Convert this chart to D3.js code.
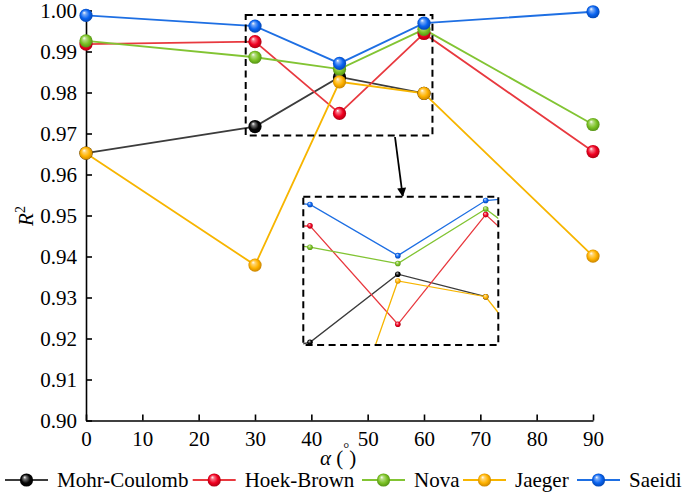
<!DOCTYPE html>
<html><head><meta charset="utf-8">
<script src="https://cdn.jsdelivr.net/npm/d3@7"></script>
<style>
body{margin:0;background:#fff}
</style>
</head><body>
<svg id="c" width="685" height="494"></svg>
<script>
// ---- data ----
const angles = [0, 30, 45, 60, 90];
const seriesNames = ["Mohr-Coulomb", "Hoek-Brown", "Nova", "Jaeger", "Saeidi"];
const mohrCoulomb = [0.9652, 0.9717, 0.9838, 0.9798, null];
const hoekBrown   = [0.9918, 0.9924, 0.9749, 0.9944, 0.9656];
const nova        = [0.9926, 0.9886, 0.9857, 0.9954, 0.9722];
const jaeger      = [0.9652, 0.9379, 0.9826, 0.9798, 0.9401];
const saeidi      = [0.9988, 0.9962, 0.9871, 0.9969, 0.9997];
const xTicks = [0, 10, 20, 30, 40, 50, 60, 70, 80, 90];
const yTicks = [0.90, 0.91, 0.92, 0.93, 0.94, 0.95, 0.96, 0.97, 0.98, 0.99, 1.00];
const zoomAngle = [28.35, 61.5];
const zoomR2 = [0.9695, 0.9989];
const insetAngle = [28.86, 62.15];
const insetR2 = [0.97122, 0.99758];

// ---- styles ----
const FONT = '"Liberation Serif"';
const lineColors = ["#3c3c3c", "#e8393f", "#82c433", "#f7b500", "#1e6fe3"];
const dotColors  = ["#050505", "#f00020", "#7cc225", "#ffb300", "#0a64f0"];
const dotDark    = ["#000000", "#a00010", "#4d8a10", "#c07c00", "#0040a8"];
const allSeries = [mohrCoulomb, hoekBrown, nova, jaeger, saeidi];

const svg = d3.select("#c");
const defs = svg.append("defs");
dotColors.forEach((c, i) => {
  const g = defs.append("radialGradient").attr("id", "g" + i)
    .attr("cx", "50%").attr("cy", "50%").attr("r", "55%")
    .attr("fx", "35%").attr("fy", "28%");
  g.append("stop").attr("offset", "0%").attr("stop-color", "#ffffff");
  g.append("stop").attr("offset", "22%").attr("stop-color", d3.interpolateRgb("#fff", c)(0.55));
  g.append("stop").attr("offset", "60%").attr("stop-color", c);
  g.append("stop").attr("offset", "100%").attr("stop-color", dotDark[i]);
});
defs.append("marker").attr("id", "arr").attr("viewBox", "0 0 10 10")
  .attr("refX", 9).attr("refY", 5).attr("markerWidth", 12).attr("markerHeight", 9)
  .attr("markerUnits", "userSpaceOnUse").attr("orient", "auto")
  .append("path").attr("d", "M0,0 L10,5 L0,10 Z").attr("fill", "#000");

const x = d3.scaleLinear().domain([0, 90]).range([86, 593]);
const y = d3.scaleLinear().domain([0.90, 1.00]).range([420.5, 10.5]);

// axes
const gx = svg.append("g").attr("transform", `translate(0,${y(0.90)})`)
  .call(d3.axisBottom(x).tickValues(xTicks).tickSizeInner(-6).tickSizeOuter(0).tickPadding(11).tickFormat(d3.format("d")));
const gy = svg.append("g").attr("transform", `translate(${x(0)},0)`)
  .call(d3.axisLeft(y).tickValues(yTicks).tickSizeInner(-6).tickSizeOuter(0).tickPadding(9).tickFormat(d3.format(".2f")));
[gx, gy].forEach(g => {
  g.attr("font-family", null);
  g.selectAll("path,line").attr("stroke", "#000").attr("stroke-width", 1.6);
  g.selectAll("text").style("font-size", "21px").style("font-family", FONT).attr("fill", "#000");
});

// axis titles
const yt = svg.append("text").attr("transform", "translate(33,216) rotate(-90)")
  .attr("text-anchor", "middle").style("font-size", "21px").style("font-family", FONT);
yt.append("tspan").style("font-style", "italic").text("R");
yt.append("tspan").attr("dy", -8).style("font-size", "14px").text("2");

const xt = svg.append("text").attr("x", 320).attr("y", 465).style("font-size", "21px").style("font-family", FONT);
xt.append("tspan").style("font-style", "italic").text("α");
xt.append("tspan").text(" (");
xt.append("tspan").attr("dy", -12).style("font-size", "15px").text("°");
xt.append("tspan").attr("dy", 12).text(")");

// main lines and dots
const line = d3.line().defined(d => d.v != null).x(d => x(d.a)).y(d => y(d.v));
const seriesData = allSeries.map(s => angles.map((a, i) => ({a: a, v: s[i]})));
seriesData.forEach((d, i) => {
  svg.append("path").datum(d).attr("d", line).attr("fill", "none")
    .attr("stroke", lineColors[i]).attr("stroke-width", 1.8);
});
seriesData.forEach((d, i) => {
  svg.append("g").selectAll("circle").data(d.filter(p => p.v != null)).join("circle")
    .attr("cx", p => x(p.a)).attr("cy", p => y(p.v)).attr("r", 6.6)
    .attr("fill", `url(#g${i})`);
});

// zoom rectangle on main chart
svg.append("rect")
  .attr("x", x(zoomAngle[0])).attr("y", y(zoomR2[1]))
  .attr("width", x(zoomAngle[1]) - x(zoomAngle[0])).attr("height", y(zoomR2[0]) - y(zoomR2[1]))
  .attr("fill", "none").attr("stroke", "#000").attr("stroke-width", 2).attr("stroke-dasharray", "7,4.5");

// inset
const ix = d3.scaleLinear().domain(insetAngle).range([303.3, 498.3]);
const iy = d3.scaleLinear().domain(insetR2).range([345, 196.7]);
defs.append("clipPath").attr("id", "clipI").append("rect")
  .attr("x", 303.3).attr("y", 196.7).attr("width", 195).attr("height", 148.3);
const ig = svg.append("g").attr("clip-path", "url(#clipI)");
const iline = d3.line().defined(d => d.v != null).x(d => ix(d.a)).y(d => iy(d.v));
seriesData.forEach((d, i) => {
  ig.append("path").datum(d).attr("d", iline).attr("fill", "none")
    .attr("stroke", lineColors[i]).attr("stroke-width", 1.3);
});
seriesData.forEach((d, i) => {
  ig.append("g").selectAll("circle").data(d.filter(p => p.v != null)).join("circle")
    .attr("cx", p => ix(p.a)).attr("cy", p => iy(p.v)).attr("r", 2.8)
    .attr("fill", `url(#g${i})`);
});
svg.append("rect").attr("x", 303.3).attr("y", 196.7).attr("width", 195).attr("height", 148.3)
  .attr("fill", "none").attr("stroke", "#000").attr("stroke-width", 2).attr("stroke-dasharray", "7,4.5");

// arrow
svg.append("line").attr("x1", 395).attr("y1", 137).attr("x2", 402.7).attr("y2", 196)
  .attr("stroke", "#000").attr("stroke-width", 1.8).attr("marker-end", "url(#arr)");

// legend
const legX = [5, 192.7, 362, 463, 577];
const legY = 480;
seriesNames.forEach((n, i) => {
  const g = svg.append("g");
  g.append("line").attr("x1", legX[i]).attr("x2", legX[i] + 43).attr("y1", legY).attr("y2", legY)
    .attr("stroke", lineColors[i]).attr("stroke-width", 2);
  g.append("circle").attr("cx", legX[i] + 21.5).attr("cy", legY).attr("r", 6.6).attr("fill", `url(#g${i})`);
  g.append("text").attr("x", legX[i] + 52).attr("y", 487.3).style("font-size", "21px")
    .style("font-family", FONT).attr("fill", "#000").text(n);
});
</script>
</body></html>
